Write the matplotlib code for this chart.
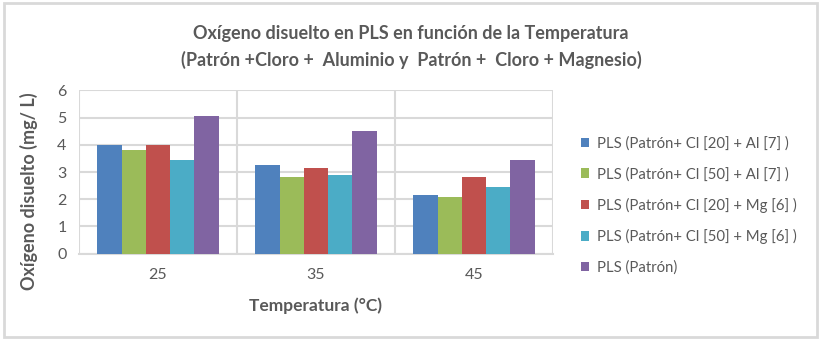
import numpy as np
import matplotlib.pyplot as plt

# values
temperaturas = ['25', '35', '45']
series = [
    'PLS (Patrón+ Cl [20] + Al [7] )',
    'PLS (Patrón+ Cl [50] + Al [7] )',
    'PLS (Patrón+ Cl [20] + Mg [6] )',
    'PLS (Patrón+ Cl [50] + Mg [6] )',
    'PLS (Patrón)',
]
cl20_al7 = [4.00, 3.26, 2.16]
cl50_al7 = [3.81, 2.82, 2.08]
cl20_mg6 = [3.98, 3.15, 2.82]
cl50_mg6 = [3.44, 2.89, 2.44]
patron = [5.06, 4.51, 3.44]
colores = ['#4F81BD', '#9BBB59', '#C0504D', '#4BACC6', '#8064A2']

plt.rcParams['font.family'] = ['Lato', 'DejaVu Sans']
gris = '#595959'
grid = '#D9D9D9'

fig = plt.figure(figsize=(8.22, 3.41), dpi=100)
ax = fig.add_axes([0.0961, 0.256, 0.5766, 0.479])

x = np.arange(len(temperaturas))
w = 1 / 6.5
valores = [cl20_al7, cl50_al7, cl20_mg6, cl50_mg6, patron]
for i, (vals, lab, c) in enumerate(zip(valores, series, colores)):
    ax.bar(x + (i - 2) * w, vals, width=w, color=c, label=lab, zorder=3)

ax.set_xlim(-0.5, 2.5)
ax.set_ylim(0, 6)
ax.set_yticks(range(7))
ax.set_xticks(x)
ax.set_xticklabels(temperaturas)
ax.set_xticks([-0.5, 0.5, 1.5, 2.5], minor=True)
ax.tick_params(which='both', length=0, colors=gris, labelsize=11.5)
ax.tick_params(axis='x', pad=10)
ax.tick_params(axis='y', pad=9)
ax.grid(axis='y', color=grid, linewidth=1.5, zorder=0)
ax.grid(axis='x', which='minor', color=grid, linewidth=1.5, zorder=0)
for s in ['top', 'right', 'left']:
    ax.spines[s].set_visible(False)
ax.spines['bottom'].set_color(grid)
ax.spines['bottom'].set_linewidth(1.5)

ax.set_xlabel('Temperatura (°C)', fontsize=12.5, fontweight='bold', color=gris)
ax.xaxis.set_label_coords(0.5, -0.27)
ax.set_ylabel('Oxígeno disuelto (mg/ L)', fontsize=13, fontweight='bold', color=gris)
ax.yaxis.set_label_coords(-0.087, 0.38)

fig.text(0.5, 0.903, 'Oxígeno disuelto en PLS en función de la Temperatura',
         ha='center', va='center', fontsize=13, fontweight='bold', color=gris)
fig.text(0.5, 0.823, '(Patrón +Cloro +  Aluminio y  Patrón +  Cloro + Magnesio)',
         ha='center', va='center', fontsize=13, fontweight='bold', color=gris)

ax.legend(loc='center left', bbox_to_anchor=(1.03, 0.295), frameon=False,
          fontsize=10.7, labelcolor=gris, handlelength=0.6, handleheight=0.6,
          handletextpad=0.5, labelspacing=1.1)

fig.patches.append(plt.Rectangle((0.005, 0.012), 0.989, 0.978, transform=fig.transFigure,
                                 fill=False, edgecolor=grid, linewidth=2))
fig.savefig('out.png', dpi=100)
